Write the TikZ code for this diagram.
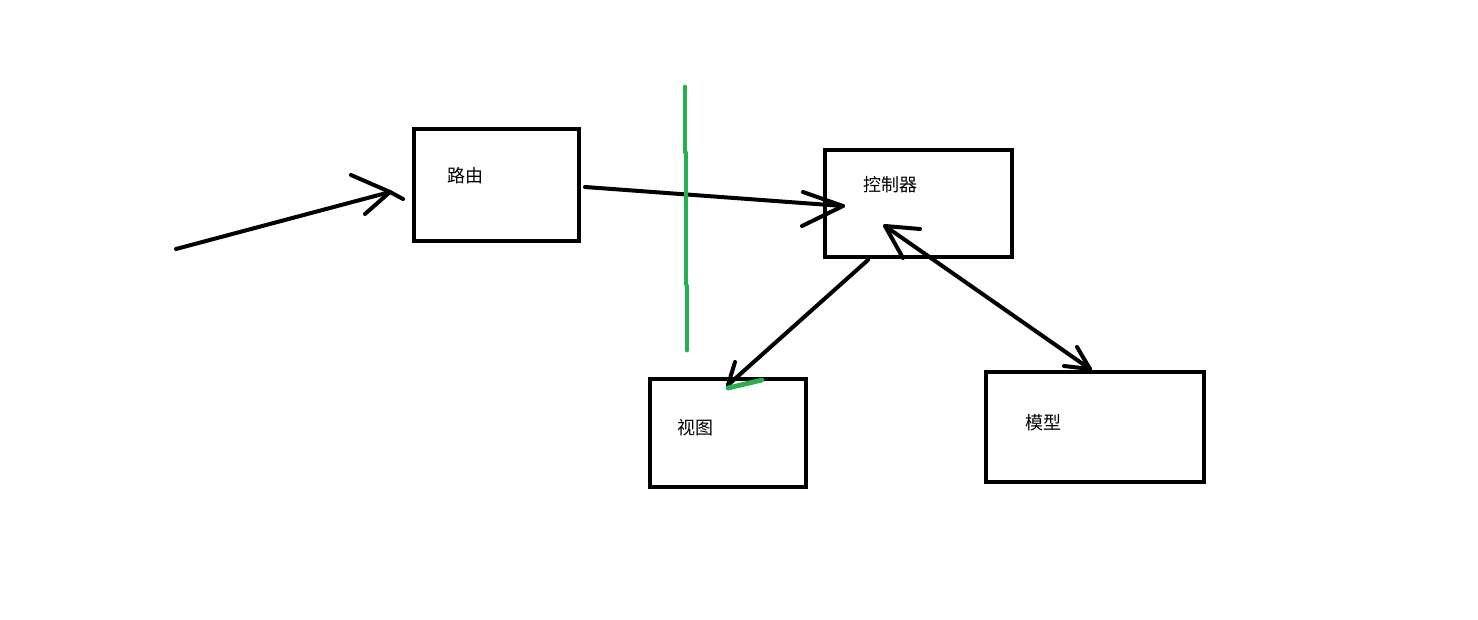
\documentclass[tikz,border=0pt]{standalone}
\usepackage{fontspec}
\newfontfamily\cjk{Noto Sans CJK SC}
\definecolor{penGreen}{HTML}{22B14C}
\begin{document}
\begin{tikzpicture}[x=0.5pt,y=-0.5pt,
  stroke/.style={line width=2pt,line cap=round,line join=round,black},
  gstroke/.style={line width=2.4pt,line cap=round,penGreen},
  boxshape/.style={draw,line width=2pt,inner sep=0pt,outer sep=0pt,anchor=north west},
  label/.style={font=\cjk\fontsize{9pt}{10pt}\selectfont,inner sep=0pt,anchor=west}]
\useasboundingbox[fill=white] (0,0) rectangle (1478,620);

% boxes
\node[boxshape,minimum width=82.5pt,minimum height=56pt] (router) at (414,129) {};
\node[boxshape,minimum width=93.5pt,minimum height=53.5pt] (ctrl) at (825,150) {};
\node[boxshape,minimum width=78pt,minimum height=54pt] (view) at (650,379) {};
\node[boxshape,minimum width=109pt,minimum height=55pt] (model) at (986,372) {};

% labels
\node[label] (routerT) at (447,176) {路由};
\node[label] (ctrlT) at (863,185) {控制器};
\node[label] (viewT) at (677,428) {视图};
\node[label] (modelT) at (1025,423) {模型};

% points of the hand-drawn connectors
\coordinate (inStart) at (176,249);
\coordinate (inTip) at (390,192);
\coordinate (inOver) at (403,199);
\coordinate (inBarbA) at (351,175);
\coordinate (inBarbB) at (365,214);

\coordinate (rcStart) at (585,187);
\coordinate (rcTip) at (843,206);
\coordinate (rcBarbA) at (803,192);
\coordinate (rcBarbB) at (802,226);

\coordinate (cmTop) at (885,226);
\coordinate (cmTopA) at (903,258);
\coordinate (cmTopB) at (920,229);
\coordinate (cmEnd) at (1090,369);
\coordinate (cmEndA) at (1077,347);
\coordinate (cmEndB) at (1064,366);

\coordinate (cvStart) at (868,260);
\coordinate (cvTip) at (728,385);
\coordinate (cvBarb) at (735,362);
\coordinate (cvGreenA) at (728,388);
\coordinate (cvGreenB) at (762,380);

% incoming request
\draw[stroke] (inStart) -- (inTip) -- (inOver);
\draw[stroke] (inBarbA) -- (inTip) -- (inBarbB);

% router to controller
\draw[stroke] (rcStart) -- (rcTip);
\draw[stroke] (rcBarbA) -- (rcTip) -- (rcBarbB);

% controller <-> model
\draw[stroke] (cmTop) -- (cmEnd);
\draw[stroke] (cmTopA) -- (cmTop) -- (cmTopB);
\draw[stroke] (cmEndA) -- (cmEnd);
\draw[stroke] (cmEndB) -- (cmEnd);

% controller to view
\draw[stroke] (cvStart) -- (cvTip);
\draw[stroke] (cvBarb) -- (cvTip);
\draw[gstroke] (cvGreenA) -- (cvGreenB);

% green divider
\draw[gstroke] (685,87) -- (685,152);
\draw[gstroke] (686,153) -- (686,284);
\draw[gstroke] (687,286) -- (687,350);
\end{tikzpicture}
\end{document}
